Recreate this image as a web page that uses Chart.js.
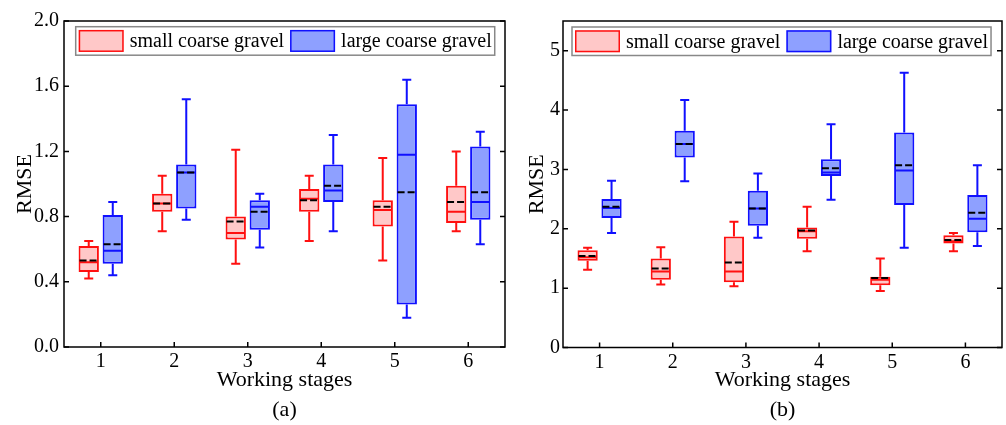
<!DOCTYPE html>
<html><head><meta charset="utf-8">
<script src="https://cdn.jsdelivr.net/npm/chart.js@4.4.1/dist/chart.umd.min.js"></script>
<style>
html,body{margin:0;padding:0;background:#fff;width:1006px;height:425px;overflow:hidden}
.w{position:absolute;top:0;height:425px}
#wa{left:0;width:510px}
#wb{left:510px;width:496px}
</style></head><body>
<div class="w" id="wa"><canvas id="ca"></canvas></div>
<div class="w" id="wb"><canvas id="cb"></canvas></div>
<script>
// ---------- data ----------
const stages = ['1', '2', '3', '4', '5', '6'];
const seriesNames = ['small coarse gravel', 'large coarse gravel'];

// (a) RMSE 0-2
const aYTicks = [0.0, 0.4, 0.8, 1.2, 1.6, 2.0];
const aSmallMin    = [0.42, 0.71, 0.51, 0.65, 0.53, 0.71];
const aSmallQ1     = [0.46, 0.83, 0.66, 0.83, 0.74, 0.76];
const aSmallMedian = [0.52, 0.88, 0.70, 0.91, 0.84, 0.83];
const aSmallMean   = [0.53, 0.88, 0.77, 0.90, 0.86, 0.89];
const aSmallQ3     = [0.62, 0.94, 0.80, 0.97, 0.90, 0.99];
const aSmallMax    = [0.65, 1.05, 1.21, 1.05, 1.16, 1.20];

const aLargeMin    = [0.44, 0.78, 0.61, 0.71, 0.18, 0.63];
const aLargeQ1     = [0.51, 0.85, 0.72, 0.89, 0.26, 0.78];
const aLargeMedian = [0.59, 1.07, 0.86, 0.96, 1.18, 0.89];
const aLargeMean   = [0.63, 1.07, 0.83, 0.99, 0.95, 0.95];
const aLargeQ3     = [0.81, 1.12, 0.90, 1.12, 1.49, 1.23];
const aLargeMax    = [0.89, 1.52, 0.94, 1.30, 1.64, 1.32];

// (b) RMSE 0-5.5
const bYTicks = [0, 1, 2, 3, 4, 5];
const bSmallMin    = [1.31, 1.06, 1.03, 1.62, 0.95, 1.62];
const bSmallQ1     = [1.46, 1.14, 1.10, 1.83, 1.05, 1.75];
const bSmallMedian = [1.52, 1.28, 1.28, 1.96, 1.14, 1.79];
const bSmallMean   = [1.54, 1.33, 1.43, 1.97, 1.17, 1.81];
const bSmallQ3     = [1.64, 1.50, 1.87, 2.02, 1.19, 1.89];
const bSmallMax    = [1.68, 1.69, 2.12, 2.37, 1.50, 1.93];

const bLargeMin    = [1.93, 2.80, 1.85, 2.49, 1.68, 1.71];
const bLargeQ1     = [2.18, 3.20, 2.05, 2.89, 2.40, 1.94];
const bLargeMedian = [2.35, 3.43, 2.34, 2.95, 2.98, 2.17];
const bLargeMean   = [2.37, 3.43, 2.34, 3.02, 3.07, 2.27];
const bLargeQ3     = [2.50, 3.65, 2.64, 3.17, 3.62, 2.57];
const bLargeMax    = [2.81, 4.17, 2.93, 3.76, 4.63, 3.07];

// ---------- styling ----------
const FONT = "'Liberation Serif','Times New Roman',serif";
const RED = '#ff1010', RED_FILL = 'rgb(255,200,200)';
const BLUE = '#1010ff', BLUE_FILL = 'rgb(142,160,255)';

const boxPlugin = {
  id: 'boxDetails',
  afterDatasetsDraw(chart) {
    const ctx = chart.ctx, ys = chart.scales.y;
    const py = v => ys.getPixelForValue(v);
    chart.data.datasets.forEach((ds, di) => {
      const meta = chart.getDatasetMeta(di);
      meta.data.forEach((bar, i) => {
        const x = bar.x, hw = bar.width / 2;
        ctx.save();
        ctx.strokeStyle = ds.borderColor; ctx.lineWidth = 2; ctx.setLineDash([]);
        ctx.beginPath();
        ctx.moveTo(x, py(ds.q3[i])); ctx.lineTo(x, py(ds.hi[i]));
        ctx.moveTo(x, py(ds.q1[i])); ctx.lineTo(x, py(ds.lo[i]));
        ctx.moveTo(x - 4.5, py(ds.hi[i])); ctx.lineTo(x + 4.5, py(ds.hi[i]));
        ctx.moveTo(x - 4.5, py(ds.lo[i])); ctx.lineTo(x + 4.5, py(ds.lo[i]));
        ctx.moveTo(x - hw + 1, py(ds.med[i])); ctx.lineTo(x + hw - 1, py(ds.med[i]));
        ctx.stroke();
        ctx.strokeStyle = '#000'; ctx.setLineDash([7, 3]);
        ctx.beginPath();
        ctx.moveTo(x - hw + 1, py(ds.mean[i])); ctx.lineTo(x + hw - 1, py(ds.mean[i]));
        ctx.stroke();
        ctx.restore();
      });
    });
  }
};

const framePlugin = {
  id: 'frame',
  afterDraw(chart) {
    const ctx = chart.ctx, a = chart.chartArea, ys = chart.scales.y, xs = chart.scales.x;
    ctx.save();
    ctx.strokeStyle = '#000'; ctx.lineWidth = 1.5;
    ctx.strokeRect(a.left, a.top, a.right - a.left, a.bottom - a.top);
    ctx.beginPath();
    ys.ticks.forEach((t, i) => {
      const y = ys.getPixelForTick(i);
      ctx.moveTo(a.left, y); ctx.lineTo(a.left + 5, y);
      ctx.moveTo(a.right, y); ctx.lineTo(a.right - 5, y);
    });
    xs.ticks.forEach((t, i) => {
      const x = xs.getPixelForTick(i);
      ctx.moveTo(x, a.bottom); ctx.lineTo(x, a.bottom - 5);
    });
    ctx.stroke();
    ctx.restore();
  }
};

const legendPlugin = {
  id: 'boxLegend',
  afterDraw(chart, args, o) {
    const ctx = chart.ctx, a = chart.chartArea, ds = chart.data.datasets;
    ctx.save();
    ctx.font = '20px ' + FONT;
    ctx.textBaseline = 'middle';
    const sw = 45, sh = 22, pad = 3, gap = 6, h = 28.5;
    const widths = ds.map(d => ctx.measureText(d.label).width);
    const total = pad * 2 + ds.length * (sw + gap) + widths.reduce((s, w) => s + w, 0) + (ds.length - 1) * gap;
    const x0 = a.left + o.dx, y0 = a.top + o.dy, cy = y0 + h / 2;
    ctx.fillStyle = '#fff'; ctx.fillRect(x0, y0, total, h);
    ctx.strokeStyle = '#888'; ctx.lineWidth = 1.5; ctx.strokeRect(x0, y0, total, h);
    let x = x0 + pad;
    ds.forEach((d, i) => {
      ctx.fillStyle = d.backgroundColor; ctx.fillRect(x, cy - sh / 2, sw, sh);
      ctx.strokeStyle = d.borderColor; ctx.lineWidth = 1.5;
      ctx.strokeRect(x + 0.75, cy - sh / 2 + 0.75, sw - 1.5, sh - 1.5);
      x += sw + gap;
      ctx.fillStyle = '#000'; ctx.fillText(d.label, x, cy + 1);
      x += widths[i] + gap;
    });
    ctx.restore();
  }
};

function boxDataset(label, lo, q1, med, mean, q3, hi, border, fill) {
  return {
    label, data: q1.map((v, i) => [v, q3[i]]),
    lo, q1, med, mean, q3, hi,
    backgroundColor: fill, borderColor: border, borderWidth: 2, borderSkipped: false,
    categoryPercentage: 0.654, barPercentage: 0.846
  };
}

function makeChart(id, cfg) {
  return new Chart(document.getElementById(id), {
    type: 'bar',
    data: {
      labels: stages,
      datasets: [
        boxDataset(seriesNames[0], ...cfg.small, RED, RED_FILL),
        boxDataset(seriesNames[1], ...cfg.large, BLUE, BLUE_FILL)
      ]
    },
    options: {
      responsive: true, maintainAspectRatio: false, animation: false,
      layout: { padding: { left: 0, top: 21, right: cfg.padRight, bottom: 0 } },
      plugins: {
        legend: { display: false }, tooltip: { enabled: false },
        boxLegend: { dx: cfg.legDx, dy: cfg.legDy }
      },
      scales: {
        x: {
          type: 'category', offset: true,
          grid: { display: false, drawTicks: false }, border: { display: false },
          ticks: { color: '#000', font: { family: FONT, size: 20 }, padding: 3 },
          title: { display: true, text: ['Working stages', cfg.tag], color: '#000',
                   font: { family: FONT, size: 22, lineHeight: 1.36 }, padding: { top: 0, bottom: 0 } },
          afterFit: s => { s.height = cfg.xH; }
        },
        y: {
          min: cfg.yTicks[0], max: cfg.yMax,
          grid: { display: false, drawTicks: false }, border: { display: false },
          ticks: { stepSize: cfg.step, includeBounds: false, color: '#000', padding: cfg.yPad,
                   font: { family: FONT, size: 20 },
                   callback: v => cfg.yTicks.some(t => Math.abs(t - v) < 1e-6) ? v.toFixed(cfg.dec) : '' },
          title: { display: true, text: 'RMSE', color: '#000',
                   font: { family: FONT, size: 22, lineHeight: 1.2 }, padding: { top: cfg.titlePad, bottom: 0 } },
          afterFit: s => { s.width = cfg.yW; }
        }
      }
    },
    plugins: [boxPlugin, framePlugin, legendPlugin]
  });
}

makeChart('ca', {
  small: [aSmallMin, aSmallQ1, aSmallMedian, aSmallMean, aSmallQ3, aSmallMax],
  large: [aLargeMin, aLargeQ1, aLargeMedian, aLargeMean, aLargeQ3, aLargeMax],
  yTicks: aYTicks, yMax: 2.0, step: 0.4, dec: 1, tag: '(a)',
  padRight: 5, yW: 64, xH: 78, yPad: 5, titlePad: 12, legDx: 11.7, legDy: 5.7
});
makeChart('cb', {
  small: [bSmallMin, bSmallQ1, bSmallMedian, bSmallMean, bSmallQ3, bSmallMax],
  large: [bLargeMin, bLargeQ1, bLargeMedian, bLargeMean, bLargeQ3, bLargeMax],
  yTicks: bYTicks, yMax: 5.5, step: 1, dec: 0, tag: '(b)',
  padRight: 4, yW: 53, xH: 77.5, yPad: 3, titlePad: 14, legDx: 9, legDy: 6
});
</script></body></html>
